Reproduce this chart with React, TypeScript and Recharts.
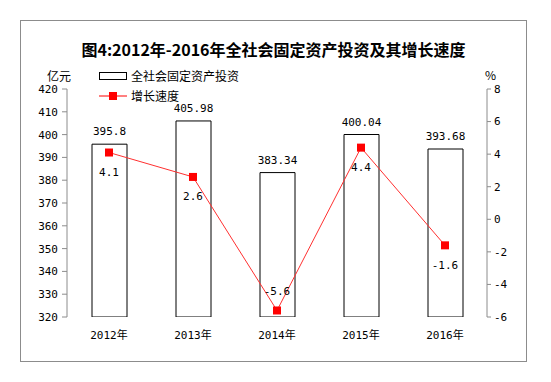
import { Bar, ComposedChart, LabelList, Line, XAxis, YAxis } from "recharts";

const years = ["2012年", "2013年", "2014年", "2015年", "2016年"];
const investment = [395.8, 405.98, 383.34, 400.04, 393.68];
const growth = [4.1, 2.6, -5.6, 4.4, -1.6];
const leftTicks = [320, 330, 340, 350, 360, 370, 380, 390, 400, 410, 420];
const rightTicks = [-6, -4, -2, 0, 2, 4, 6, 8];
const edgeTicks = [0, 1, 2, 3, 4, 5];

const data = years.map((year, i) => ({ year, investment: investment[i], growth: growth[i] }));

const MONO = '"DejaVu Sans Mono", "Noto Sans CJK SC", monospace';
const CJK = '"Noto Sans CJK SC", sans-serif';
const GRAY = "#8c8c8c";
const RED = "#ff0000";

const SquareDot = (props: any) => {
  const { cx, cy } = props;
  if (cx == null || cy == null) return null;
  return <rect x={cx - 4} y={cy - 4} width={8} height={8} fill={RED} />;
};

const GrowthLabel = (props: any) => {
  const { x, y, value } = props;
  const above = value < -4;
  return (
    <text x={x} y={y + (above ? -19 : 20)} textAnchor="middle" dominantBaseline="central" fontFamily={MONO} fontSize={11} fill="#000">
      {value}
    </text>
  );
};

export default function App() {
  return (
    <div
      style={{
        position: "absolute",
        left: 20,
        top: 20,
        width: 507,
        height: 342,
        border: `1px solid ${GRAY}`,
        boxSizing: "border-box",
        background: "#fff",
      }}
    >
      <div style={{ position: "absolute", left: 0, right: 0, top: 17, textAlign: "center", fontFamily: CJK, fontWeight: 700, fontSize: 16, lineHeight: "22px", color: "#000" }}>
        图4:2012年-2016年全社会固定资产投资及其增长速度
      </div>
      <div style={{ position: "absolute", left: 26, top: 47, fontFamily: CJK, fontSize: 12, lineHeight: "16px" }}>亿元</div>
      <div style={{ position: "absolute", left: 464, top: 46, fontFamily: CJK, fontSize: 12, lineHeight: "16px" }}>%</div>
      <div style={{ position: "absolute", left: 78, top: 47, fontFamily: CJK, fontSize: 12, lineHeight: "16px" }}>
        <div style={{ display: "flex", alignItems: "center", height: 16 }}>
          <svg width={32} height={16}>
            <rect x={0.5} y={4.5} width={27} height={7} fill="#fff" stroke="#000" />
          </svg>
          <span>全社会固定资产投资</span>
        </div>
        <div style={{ display: "flex", alignItems: "center", height: 16, marginTop: 4 }}>
          <svg width={32} height={16}>
            <line x1={0} y1={8} x2={28} y2={8} stroke={RED} strokeWidth={1} />
            <rect x={10} y={4} width={8} height={8} fill={RED} />
          </svg>
          <span>增长速度</span>
        </div>
      </div>
      <ComposedChart width={505} height={340} data={data} margin={{ top: 68, right: 5, bottom: 19, left: 6 }}>
        <XAxis
          xAxisId="edges"
          type="number"
          domain={[0, 5]}
          ticks={edgeTicks}
          tick={false}
          tickSize={5}
          height={0}
          stroke={GRAY}
          allowDataOverflow
        />
        <XAxis
          dataKey="year"
          axisLine={false}
          tickLine={false}
          height={25}
          tickMargin={8}
          tick={{ fontFamily: MONO, fontSize: 11, fill: "#000" }}
        />
        <YAxis
          yAxisId="left"
          domain={[320, 420]}
          ticks={leftTicks}
          width={40}
          tickSize={5}
          tickMargin={4}
          stroke={GRAY}
          tick={{ fontFamily: MONO, fontSize: 11, fill: "#000" }}
          allowDataOverflow
        />
        <YAxis
          yAxisId="right"
          orientation="right"
          domain={[-6, 8]}
          ticks={rightTicks}
          width={34}
          tickSize={4}
          tickMargin={3}
          stroke={GRAY}
          tick={{ fontFamily: MONO, fontSize: 11, fill: "#000" }}
          allowDataOverflow
        />
        <Bar yAxisId="left" dataKey="investment" barSize={35} fill="#fff" stroke="#000" strokeWidth={1} isAnimationActive={false}>
          <LabelList dataKey="investment" position="top" offset={9} style={{ fontFamily: MONO, fontSize: 11, fill: "#000" }} />
        </Bar>
        <Line
          yAxisId="right"
          dataKey="growth"
          stroke="#ff3030"
          strokeWidth={1}
          dot={<SquareDot />}
          activeDot={false}
          isAnimationActive={false}
        >
          <LabelList dataKey="growth" content={<GrowthLabel />} />
        </Line>
      </ComposedChart>
    </div>
  );
}
